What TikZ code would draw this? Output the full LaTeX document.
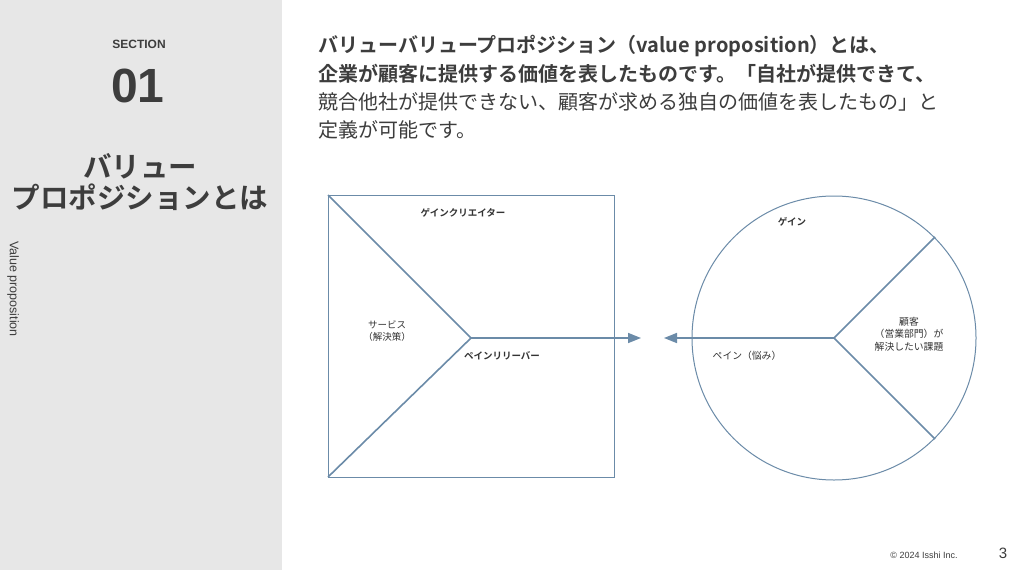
\documentclass[tikz,border=0pt]{standalone}
\usepackage{fontspec}
\setmainfont{Liberation Sans}
\newfontfamily\jp{Noto Sans CJK JP}[BoldFont={Noto Sans CJK JP Bold}]
\usetikzlibrary{arrows.meta}
\definecolor{panel}{HTML}{E7E7E7}
\definecolor{ink}{HTML}{3D3D3D}
\definecolor{lbl}{HTML}{333333}
\definecolor{steel}{HTML}{6B8BA8}
\tikzset{
  frame/.style={draw=steel, line width=1pt},
  spoke/.style={draw=steel, line width=1.6pt},
  flow/.style={draw=steel, line width=1.6pt, -{Triangle[length=13pt,width=10pt]}},
  head/.style={anchor=west, inner sep=0pt, text=ink, font=\jp\fontsize{20}{24}\selectfont},
  headb/.style={head, font=\jp\bfseries\fontsize{20}{24}\selectfont},
  lab/.style={inner sep=0pt, text=lbl, align=center, font=\jp\fontsize{9.5}{12}\selectfont},
  labb/.style={lab, font=\jp\bfseries\fontsize{9.5}{12}\selectfont},
  side/.style={inner sep=0pt, text=ink},
}
\begin{document}
\begin{tikzpicture}[x=1pt,y=-1pt]
\useasboundingbox (0,0) rectangle (1024,570);
\fill[white] (0,0) rectangle (1024,570);
\fill[panel] (0,0) rectangle (282,570);
% sidebar
\node[side, font=\bfseries\fontsize{12}{14}\selectfont] (sec) at (139,44) {SECTION};
\node[side, font=\bfseries\fontsize{48}{50}\selectfont] (num) at (138,86) {01};
\node[side, font=\jp\bfseries\fontsize{28.5}{32}\selectfont] (t1) at (140,166) {バリュー};
\node[side, font=\jp\bfseries\fontsize{28.5}{32}\selectfont] (t2) at (140,197) {プロポジションとは};
\node[side, rotate=-90, font=\fontsize{12.5}{14}\selectfont] (vp) at (13,289) {Value proposition};
% heading
\node[headb] (h1) at (318,46) {バリューバリュープロポジション（value proposition）とは、};
\node[headb] (h2) at (318,74) {企業が顧客に提供する価値を表したものです。「自社が提供できて、};
\node[head] (h3) at (318,102) {競合他社が提供できない、顧客が求める独自の価値を表したもの」と};
\node[head] (h4) at (318,130) {定義が可能です。};
% square
\draw[frame] (328,195) rectangle (614,477);
\coordinate (sqtl) at (328,195);
\coordinate (sqbl) at (328,477);
\coordinate (sqc) at (471,338);
\coordinate (sqend) at (641,338);
\draw[spoke] (sqtl) -- (sqc) -- (sqbl);
\draw[flow] (sqc) -- (sqend);
\node[labb] (gc) at (463,213) {ゲインクリエイター};
\node[lab] (svc) at (387,331) {サービス\\（解決策）};
\node[labb] (pr) at (502,356) {ペインリリーバー};
% circle
\coordinate (cc) at (834,338);
\draw[frame] (cc) circle (142);
\coordinate (cu) at (935,237);
\coordinate (cd) at (935,439);
\coordinate (cend) at (664,338);
\draw[spoke] (cu) -- (cc) -- (cd);
\draw[flow] (cc) -- (cend);
\node[labb] (gain) at (792,222) {ゲイン};
\node[lab, font=\jp\fontsize{9.8}{12.5}\selectfont] (cust) at (909,334) {顧客\\（営業部門）が\\解決したい課題};
\node[lab, font=\jp\fontsize{9.8}{12}\selectfont] (pain) at (747,356) {ペイン（悩み）};
% footer
\node[side, font=\fontsize{9}{11}\selectfont] (copy) at (924,555) {© 2024 Isshi Inc.};
\node[side, font=\fontsize{15}{17}\selectfont] (pg) at (1003,553) {3};
\end{tikzpicture}
\end{document}
